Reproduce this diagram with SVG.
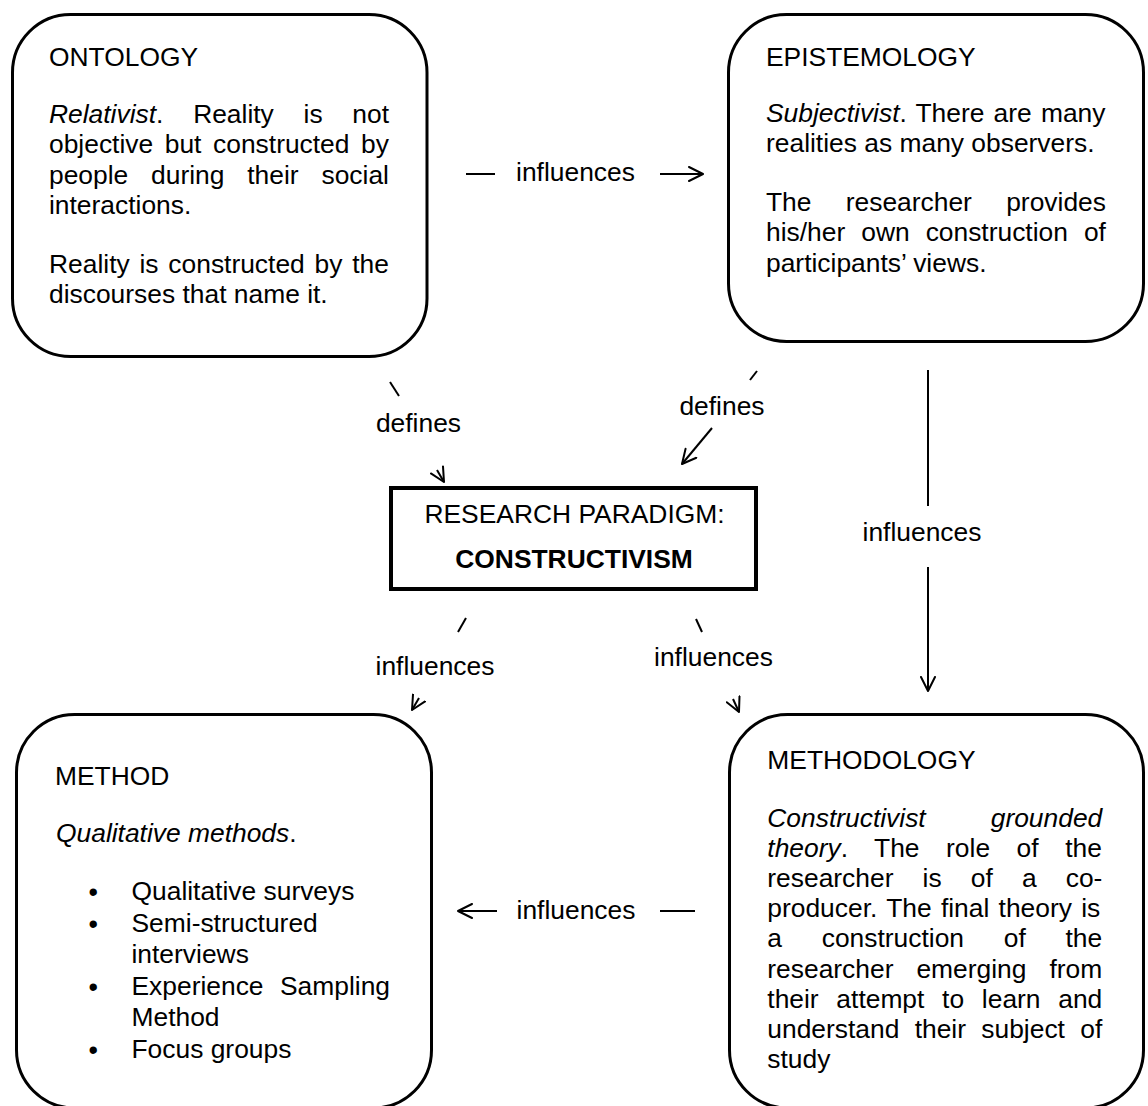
<svg xmlns="http://www.w3.org/2000/svg" width="1148" height="1106" viewBox="0 0 1148 1106">
  <style>
    .box { fill: #fff; stroke: #000; stroke-width: 3; }
    .core { fill: #fff; stroke: #000; stroke-width: 4; }
    .t { font-family: "Liberation Sans", Arial, sans-serif; font-size: 26.4px; fill: #000; }
    .i { font-style: italic; }
    .b { font-weight: bold; }
    .c { text-anchor: middle; }
    .dot { font-size: 27px; }
    .ln { stroke: #000; stroke-width: 2; fill: none; }
    .arr { marker-end: url(#open); }
  </style>
  <defs>
    <marker id="open" viewBox="0 0 16 16" refX="15" refY="8" markerWidth="16" markerHeight="16" markerUnits="userSpaceOnUse" orient="auto">
      <path d="M1,1 L15,8 L1,15" fill="none" stroke="#000" stroke-width="2" stroke-linecap="round" stroke-linejoin="round"/>
    </marker>
  </defs>
  <rect width="1148" height="1106" fill="#fff"/>

  <!-- connectors: each line is broken around its label -->
  <g id="connectors">
    <g id="ontology-epistemology">
      <line class="ln" x1="466" y1="174" x2="495" y2="174"/>
      <line class="ln arr" x1="660" y1="174" x2="703" y2="174"/>
      <text class="t c" x="575.5" y="181">influences</text>
    </g>
    <g id="ontology-paradigm">
      <line class="ln" x1="390" y1="382" x2="399" y2="396"/>
      <line class="ln arr" x1="437" y1="470" x2="444" y2="482"/>
      <text class="t c" x="418.5" y="432">defines</text>
    </g>
    <g id="epistemology-paradigm">
      <line class="ln" x1="757" y1="371" x2="750" y2="380"/>
      <line class="ln arr" x1="712" y1="428" x2="682" y2="464"/>
      <text class="t c" x="722" y="415">defines</text>
    </g>
    <g id="epistemology-methodology">
      <line class="ln" x1="928" y1="370" x2="928" y2="506"/>
      <line class="ln arr" x1="928" y1="567" x2="928" y2="691"/>
      <text class="t c" x="922" y="541">influences</text>
    </g>
    <g id="paradigm-method">
      <line class="ln" x1="466" y1="618" x2="458" y2="632"/>
      <line class="ln arr" x1="419" y1="698" x2="412" y2="710"/>
      <text class="t c" x="435" y="675">influences</text>
    </g>
    <g id="paradigm-methodology">
      <line class="ln" x1="696" y1="619" x2="702" y2="632"/>
      <line class="ln arr" x1="733" y1="699" x2="739" y2="712"/>
      <text class="t c" x="713.5" y="666">influences</text>
    </g>
    <g id="methodology-method">
      <line class="ln" x1="695" y1="911" x2="660" y2="911"/>
      <line class="ln arr" x1="497" y1="911" x2="458" y2="911"/>
      <text class="t c" x="576" y="919">influences</text>
    </g>
  </g>

  <!-- ontology -->
  <g id="ontology">
    <rect class="box" x="12.5" y="14.5" width="414.5" height="342" rx="58" ry="58"/>
    <text class="t" x="49" y="66">ONTOLOGY</text>
    <text class="t" x="49" y="122.7" style="word-spacing:22.4px"><tspan class="i">Relativist</tspan>. Reality is not</text>
    <text class="t" x="49" y="153.2" style="word-spacing:4.27px">objective but constructed by</text>
    <text class="t" x="49" y="183.7" style="word-spacing:15.5px">people during their social</text>
    <text class="t" x="49" y="214.2">interactions.</text>
    <text class="t" x="49" y="272.7" style="word-spacing:2.47px">Reality is constructed by the</text>
    <text class="t" x="49" y="303.2">discourses that name it.</text>
  </g>

  <!-- epistemology -->
  <g id="epistemology">
    <rect class="box" x="728.5" y="14.5" width="415" height="327" rx="58" ry="58"/>
    <text class="t" x="766" y="66">EPISTEMOLOGY</text>
    <text class="t" x="766" y="121.7" style="word-spacing:1.83px"><tspan class="i">Subjectivist</tspan>. There are many</text>
    <text class="t" x="766" y="152.2">realities as many observers.</text>
    <text class="t" x="766" y="210.7" style="word-spacing:26.95px">The researcher provides</text>
    <text class="t" x="766" y="241.2" style="word-spacing:8.67px">his/her own construction of</text>
    <text class="t" x="766" y="271.7">participants’ views.</text>
  </g>

  <!-- research paradigm -->
  <g id="paradigm">
    <rect class="core" x="391" y="488" width="365" height="101"/>
    <text class="t c" x="574.5" y="523">RESEARCH PARADIGM:</text>
    <text class="t c b" x="574" y="568">CONSTRUCTIVISM</text>
  </g>

  <!-- method -->
  <g id="method">
    <rect class="box" x="16.5" y="714.5" width="415" height="393.5" rx="58" ry="58"/>
    <text class="t" x="55" y="785">METHOD</text>
    <text class="t" x="56" y="841.7"><tspan class="i">Qualitative methods</tspan>.</text>
    <g class="t c dot">
      <text x="93.3" y="901">•</text>
      <text x="93.3" y="932.5">•</text>
      <text x="93.3" y="995.5">•</text>
      <text x="93.3" y="1058.5">•</text>
    </g>
    <text class="t" x="131.5" y="900">Qualitative surveys</text>
    <text class="t" x="131.5" y="931.5">Semi-structured</text>
    <text class="t" x="131.5" y="963">interviews</text>
    <text class="t" x="131.5" y="994.5" style="word-spacing:9.1px">Experience Sampling</text>
    <text class="t" x="131.5" y="1026">Method</text>
    <text class="t" x="131.5" y="1057.5">Focus groups</text>
  </g>

  <!-- methodology -->
  <g id="methodology">
    <rect class="box" x="729.5" y="714.5" width="414" height="393.5" rx="58" ry="58"/>
    <text class="t" x="767.3" y="769.3">METHODOLOGY</text>
    <text class="t i" x="767.3" y="826.5" style="word-spacing:57.7px">Constructivist grounded</text>
    <text class="t" x="767.3" y="856.7" style="word-spacing:19.2px"><tspan class="i">theory</tspan>. The role of the</text>
    <text class="t" x="767.3" y="886.9" style="word-spacing:21.8px">researcher is of a co-</text>
    <text class="t" x="767.3" y="917.1" style="word-spacing:1.95px">producer. The final theory is</text>
    <text class="t" x="767.3" y="947.3" style="word-spacing:32.4px">a construction of the</text>
    <text class="t" x="767.3" y="977.5" style="word-spacing:15.65px">researcher emerging from</text>
    <text class="t" x="767.3" y="1007.7" style="word-spacing:10.4px">their attempt to learn and</text>
    <text class="t" x="767.3" y="1037.9" style="word-spacing:7.97px">understand their subject of</text>
    <text class="t" x="767.3" y="1068.1">study</text>
  </g>
</svg>
